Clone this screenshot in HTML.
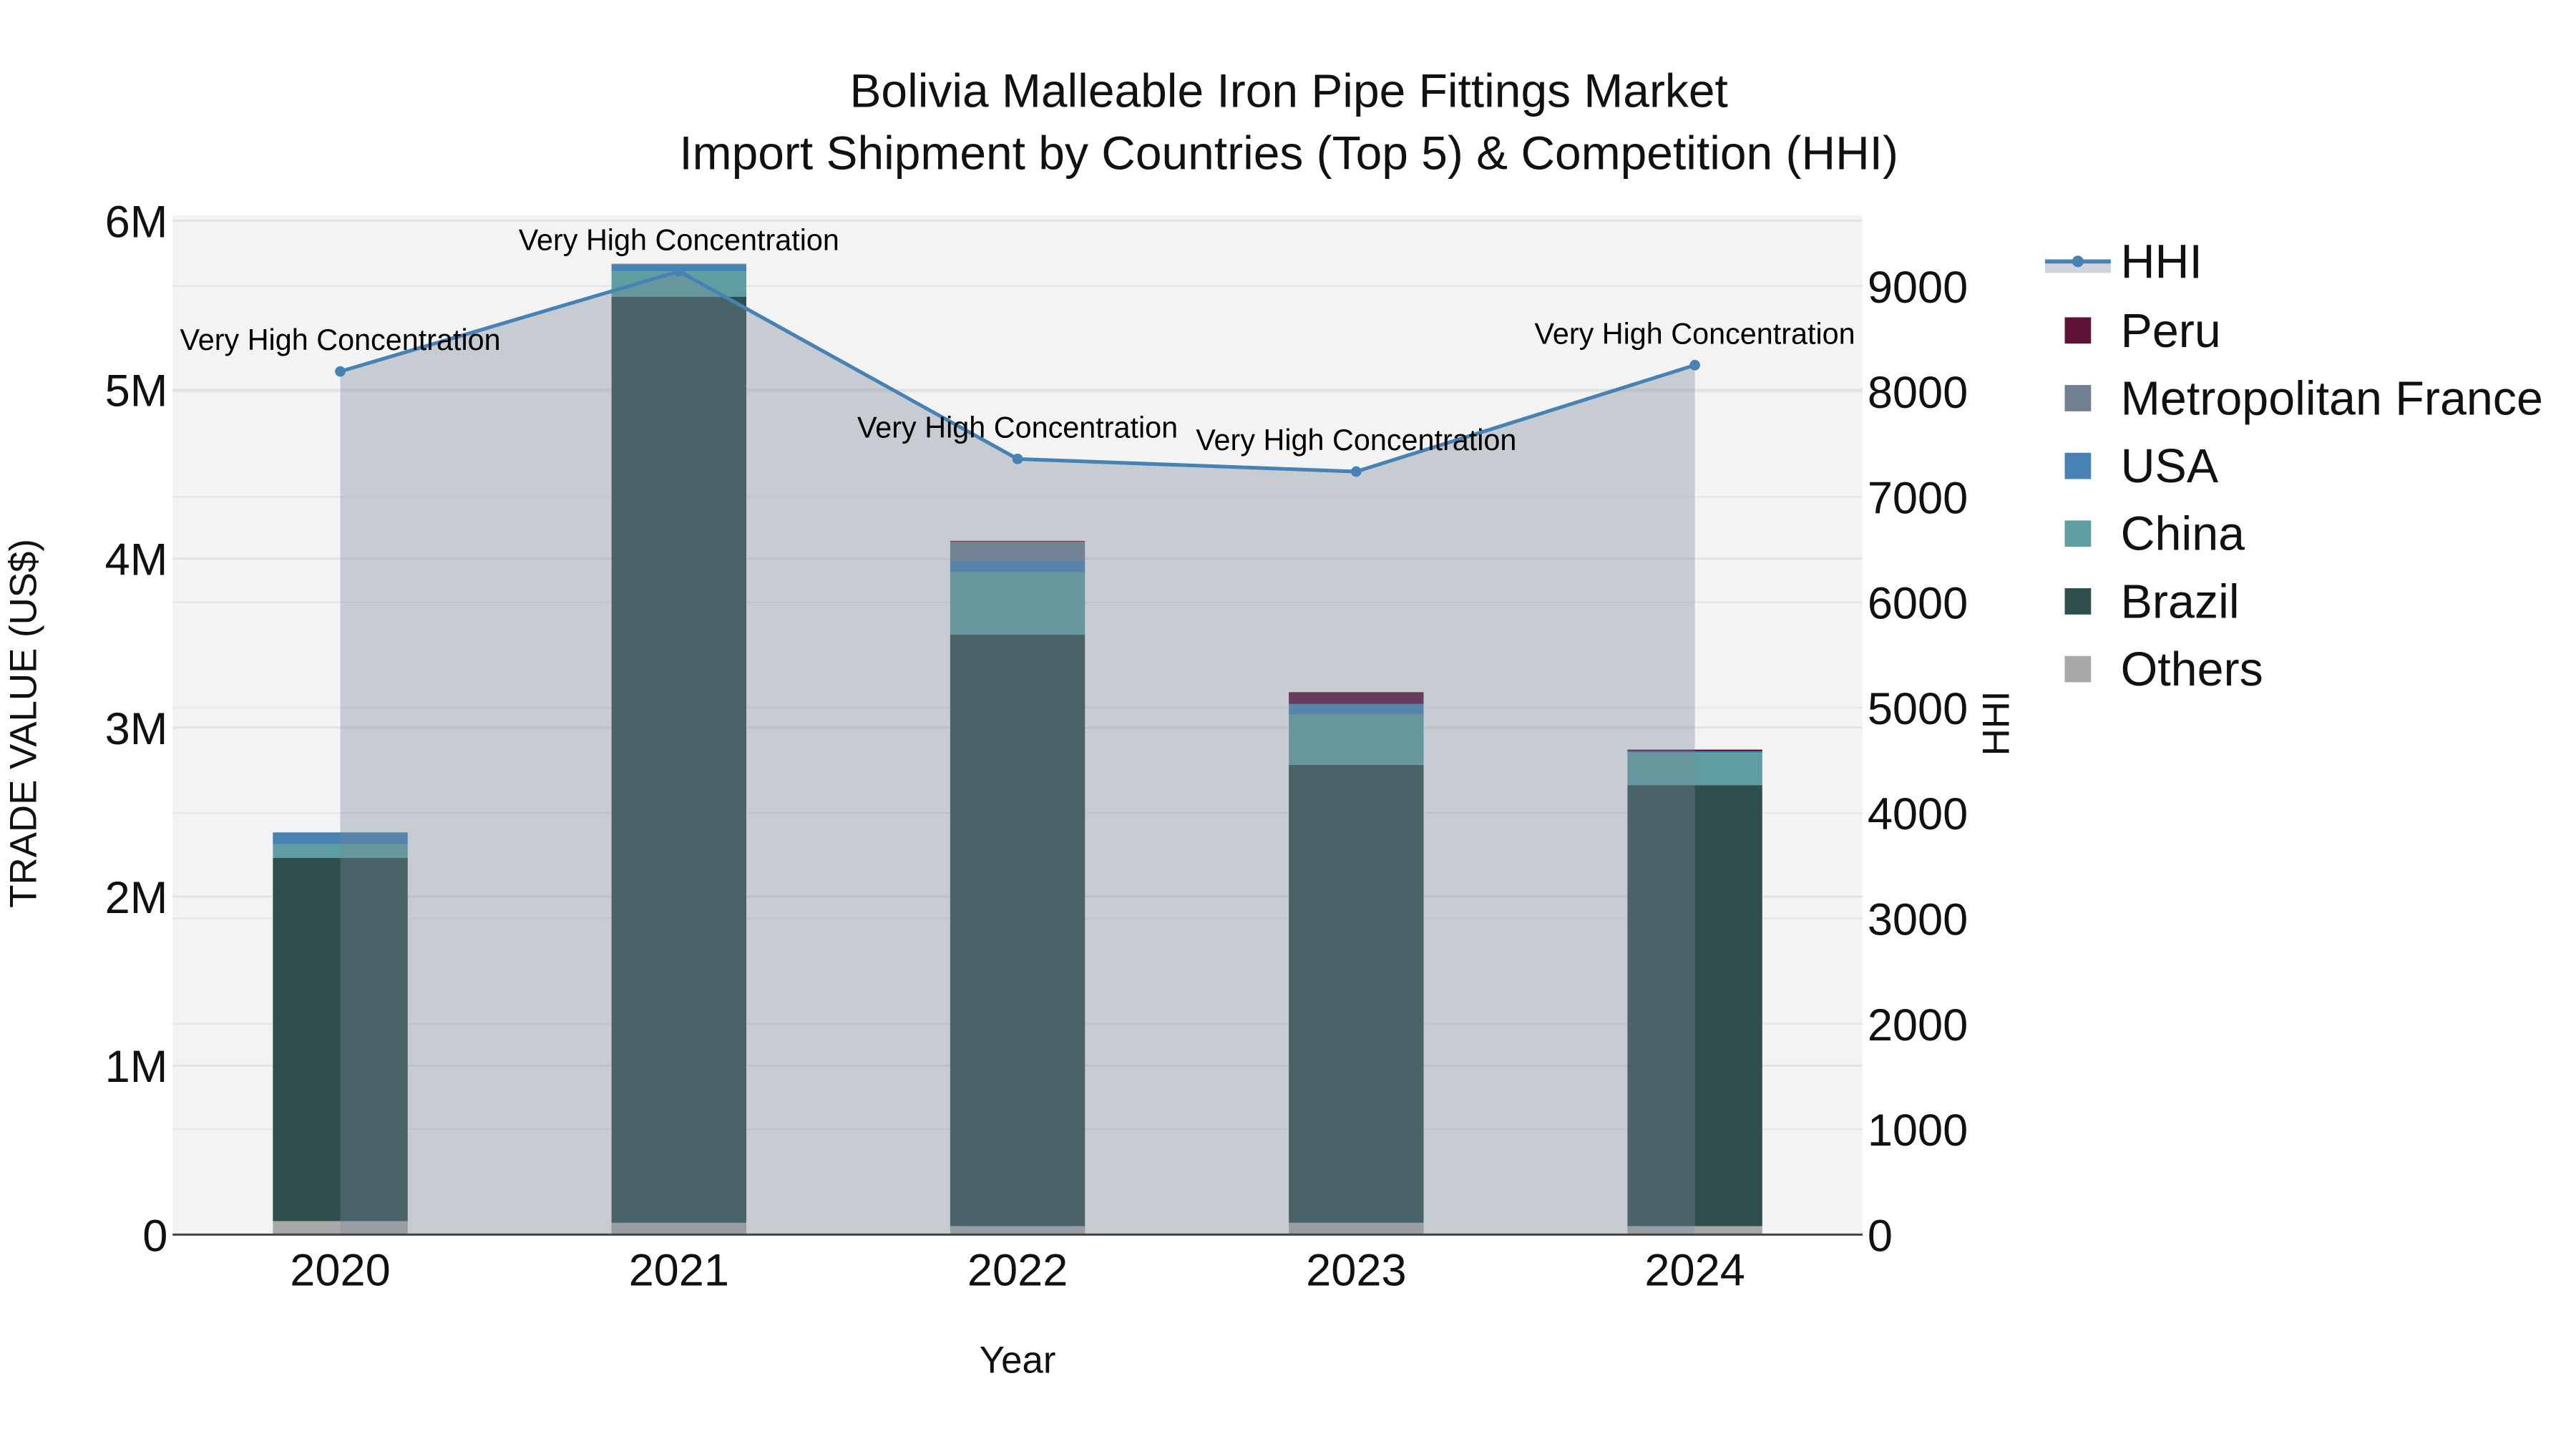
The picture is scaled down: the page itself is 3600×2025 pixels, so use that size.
<!DOCTYPE html>
<html><head><meta charset="utf-8"><style>html,body{margin:0;padding:0;background:#fff}svg{display:block}text{font-family:"Liberation Sans",sans-serif}</style></head>
<body>
<svg id="chart" width="3600" height="2025" viewBox="0 0 1567 881.4" xmlns="http://www.w3.org/2000/svg"></svg>
<script>
const years = ["2020","2021","2022","2023","2024"];
const others = [0.08, 0.07, 0.05, 0.07, 0.05];
const brazil = [2.15, 5.48, 3.50, 2.71, 2.61];
const china = [0.08, 0.15, 0.37, 0.30, 0.19];
const usa = [0.07, 0.04, 0.07, 0.06, 0.01];
const france = [0.0, 0.005, 0.11, 0.0, 0.0];
const peru = [0.0, 0.0, 0.005, 0.07, 0.01];
const hhi = [8190, 9140, 7360, 7240, 8250];
const hhiLabels = ["Very High Concentration","Very High Concentration","Very High Concentration","Very High Concentration","Very High Concentration"];
const leftTicks = [0,1,2,3,4,5,6];
const leftTickLabels = ["0","1M","2M","3M","4M","5M","6M"];
const rightTicks = [0,1000,2000,3000,4000,5000,6000,7000,8000,9000];

const NS="http://www.w3.org/2000/svg";
const svg=document.getElementById('chart');
const L=105,R=1133,T=131,B=751;
const yL=v=>B-v*102.8;
const yR=v=>B-v*0.06411;
const xC=i=>207+i*206;
function el(tag,attrs,parent){const e=document.createElementNS(NS,tag);for(const k in attrs)e.setAttribute(k,attrs[k]);(parent||svg).appendChild(e);return e;}
function txt(s,attrs,parent){const e=el('text',attrs,parent);e.textContent=s;return e;}

const bg=el('rect',{x:L,y:T,width:R-L,height:B-T,fill:'#f3f3f3'});


rightTicks.forEach(t=>{const g=el('line',{x1:L,x2:R,y1:yR(t),y2:yR(t),stroke:'#e6e6e6','stroke-width':1});

});
leftTicks.forEach(t=>{const g=el('line',{x1:L,x2:R,y1:yL(t),y2:yL(t),stroke:'#e2e2e2','stroke-width':1.2});

});

const series=[["others",others,"#a9a9a9"],["brazil",brazil,"#2f4f4f"],["china",china,"#5f9ea0"],["usa",usa,"#4682b4"],["france",france,"#708090"],["peru",peru,"#5f1336"]];
years.forEach((y,i)=>{let base=0;series.forEach(([n,arr,c])=>{const v=arr[i];if(v>0){const r=el('rect',{x:xC(i)-41,y:yL(base+v),width:82,height:yL(base)-yL(base+v),fill:c});

}base+=v;});});

let pts=hhi.map((v,i)=>xC(i)+','+yR(v)).join(' ');
const area=el('polygon',{points:xC(0)+','+B+' '+pts+' '+xC(hhi.length-1)+','+B,fill:'rgba(119,136,153,0.36)'});


const line=el('polyline',{points:pts,fill:'none',stroke:'#4682b4','stroke-width':2.2});


hhi.forEach((v,i)=>{const c=el('circle',{cx:xC(i),cy:yR(v),r:3.2,fill:'#4682b4'});


const a=txt(hhiLabels[i],{x:xC(i),y:yR(v)-13,'text-anchor':'middle','font-size':18,fill:'#000'});

});

const ax=el('line',{x1:L,x2:R,y1:B,y2:B,stroke:'#444','stroke-width':1.3});


years.forEach((y,i)=>{const t=txt(y,{x:xC(i),y:782,'text-anchor':'middle','font-size':27.5,fill:'#111'});

});
leftTicks.forEach((v,i)=>{const t=txt(leftTickLabels[i],{x:102,y:yL(v)+10,'text-anchor':'end','font-size':27.5,fill:'#111'});

});
rightTicks.forEach(v=>{const t=txt(String(v),{x:1136,y:yR(v)+10,'text-anchor':'start','font-size':27.5,fill:'#111'});

});

const legendItems=[["Peru","#5f1336"],["Metropolitan France","#708090"],["USA","#4682b4"],["China","#5f9ea0"],["Brazil","#2f4f4f"],["Others","#a9a9a9"]];
const lh=el('rect',{x:1244,y:159,width:40,height:7,fill:'rgba(119,136,153,0.35)'});


const ll=el('line',{x1:1244,x2:1284,y1:159,y2:159,stroke:'#4682b4','stroke-width':2.5});


const lc=el('circle',{cx:1264,cy:159,r:3.5,fill:'#4682b4'});


const lt=txt('HHI',{x:1290,y:169,'font-size':28.9,fill:'#111'});


legendItems.forEach(([n,c],i)=>{const cy=201+i*41.2;
const s=el('rect',{x:1256,y:cy-8,width:16,height:16,fill:c});


const t=txt(n,{x:1290,y:cy+10,'font-size':28.9,fill:'#111'});

});
</script>
<svg style="position:absolute;left:0;top:0" width="3600" height="2025" viewBox="0 0 1567 881.4" xmlns="http://www.w3.org/2000/svg">
<text x="784" y="65" text-anchor="middle" font-size="28.7" fill="#111" font-family="Liberation Sans, sans-serif">Bolivia Malleable Iron Pipe Fittings Market</text>
<text x="784" y="103" text-anchor="middle" font-size="28.7" fill="#111" font-family="Liberation Sans, sans-serif">Import Shipment by Countries (Top 5) &amp; Competition (HHI)</text>
<text x="619" y="835" text-anchor="middle" font-size="23" fill="#111" font-family="Liberation Sans, sans-serif">Year</text>
<text transform="translate(22,440) rotate(-90)" text-anchor="middle" font-size="23" fill="#111" font-family="Liberation Sans, sans-serif">TRADE VALUE (US$)</text>
<text transform="translate(1222,440) rotate(-90)" text-anchor="middle" font-size="23" fill="#111" font-family="Liberation Sans, sans-serif">HHI</text>
</svg>
</body></html>
